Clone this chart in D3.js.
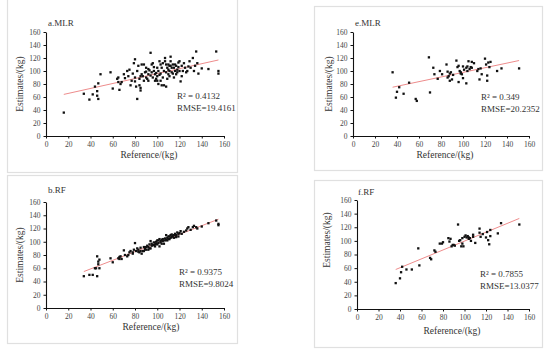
<!DOCTYPE html>
<html>
<head>
<meta charset="utf-8">
<script src="https://cdn.jsdelivr.net/npm/d3@7"></script>
<style>
  body { margin: 0; background: #fff; }
  text { font-family: "Liberation Serif", "Times New Roman", serif; fill: #333; }
</style>
</head>
<body>
<script>
// data: [reference, estimate]
var mlrA = [[16,36],[34,65],[39,56],[42,64],[44,76],[46,62],[46,69],[47,57],[47,81],[49,95],
  [58,98],[60,73],[64,88],[65,90],[65,83],[66,71],[67,80],[68,83],[70,95],[71,89],[73,100],
  [74,92],[75,102],[76,78],[77,85],[78,96],[79,112],[80,118],[80,90],[80,84],[81,76],[82,57],
  [82,100],[83,108],[84,88],[84,78],[85,74],[85,70],[86,95],[86,110],[87,92],[88,85],[89,98],
  [90,105],[90,90],[91,88],[92,95],[93,101],[94,128],[94,93],[95,110],[96,112],[96,90],[97,100],
  [98,95],[98,85],[99,97],[100,105],[100,92],[101,80],[101,100],[102,115],[103,110],[103,96],
  [104,78],[104,105],[105,90],[106,100],[106,78],[107,115],[107,120],[108,76],[108,98],[109,105],
  [110,110],[110,95],[111,92],[111,100],[112,122],[112,115],[113,105],[113,98],[114,110],[115,105],
  [115,90],[116,110],[116,100],[117,108],[118,98],[119,113],[120,115],[120,100],[121,84],[122,92],
  [122,108],[124,112],[125,105],[127,100],[128,107],[129,115],[130,105],[132,120],[133,100],
  [134,108],[135,130],[136,112],[137,96],[140,104],[146,103],[153,130],[155,100],[155,96],
  [88,110],[92,103],[95,98],[97,106],[99,88],[102,94],[105,112],[109,88],[110,102],[112,108],
  [114,96],[117,95],[119,106],[123,100],[126,98],[100,85],[103,85],[92,85],[85,92],[90,99],
  [108,110],[111,108],[118,102]];

var mlrE = [[36,98],[39,59],[40,68],[42,75],[46,65],[51,82],[57,57],[58,54],[69,121],[70,67],
  [73,105],[74,95],[77,88],[79,100],[81,95],[85,110],[86,99],[86,90],[87,92],[88,85],[88,96],
  [89,98],[90,87],[91,94],[94,116],[95,106],[96,108],[96,83],[97,100],[98,98],[98,96],[99,95],
  [100,107],[100,89],[101,102],[103,81],[103,105],[104,100],[104,107],[105,115],[106,103],
  [107,106],[108,114],[108,105],[110,112],[113,100],[114,103],[115,87],[116,104],[117,95],
  [120,119],[121,110],[122,85],[122,93],[123,113],[124,106],[125,114],[131,100],[135,104],[151,104]];

var rfB = [[34,48],[39,50],[42,50],[44,60],[45,60],[46,78],[46,48],[47,66],[47,70],[48,60],
  [48,73],[58,75],[60,69],[65,75],[66,77],[67,78],[68,74],[70,87],[71,80],[73,78],[75,84],
  [76,86],[78,82],[79,88],[80,98],[81,86],[82,90],[83,88],[84,84],[85,91],[86,82],[87,86],
  [88,92],[89,89],[90,88],[91,94],[92,92],[93,96],[94,101],[94,90],[95,97],[96,95],[97,99],
  [98,93],[99,100],[100,102],[100,96],[101,98],[102,104],[103,99],[104,103],[105,101],[106,97],
  [107,105],[108,103],[108,110],[109,106],[110,108],[111,104],[112,110],[113,107],[114,109],
  [115,106],[116,112],[117,110],[118,114],[119,108],[120,113],[121,116],[122,112],[124,115],
  [126,117],[127,120],[128,122],[130,118],[132,122],[133,124],[135,122],[136,120],[140,123],
  [146,128],[153,132],[155,127],[155,125],[85,86],[88,86],[90,92],[92,88],[95,94],[97,95],
  [99,97],[101,102],[103,101],[105,104],[107,102],[109,102],[111,108],[113,111],[115,110],
  [117,107],[102,93],[98,96],[93,90],[83,85],[78,84],[74,80],[66,74],[110,104],[112,106],
  [119,112],[104,97]];

var rfF = [[36,38],[40,45],[41,54],[42,62],[46,58],[51,58],[57,89],[58,64],[68,75],[69,73],
  [72,86],[73,84],[77,96],[79,96],[80,98],[85,104],[86,99],[87,103],[88,92],[89,94],[90,94],
  [91,93],[94,124],[95,100],[96,101],[97,92],[98,96],[98,104],[99,92],[100,106],[101,108],
  [102,105],[103,107],[104,103],[104,105],[105,104],[106,100],[108,106],[108,109],[110,97],
  [114,112],[114,118],[115,106],[117,110],[120,105],[121,113],[122,101],[123,95],[124,116],
  [124,107],[131,111],[134,126],[151,124]];

// trend lines: [slope, intercept, xFrom, xTo]
var trendA = [0.381, 57.9, 16, 155];
var trendE = [0.357, 62.2, 36, 151];
var trendB = [0.653, 32.8, 34, 155];
var trendF = [0.652, 34.5, 36, 151];

var titles = ["a.MLR", "e.MLR", "b.RF", "f.RF"];
var r2Labels = ["R\u00B2 = 0.4132", "R\u00B2 = 0.349", "R\u00B2 = 0.9375", "R\u00B2 = 0.7855"];
var rmseLabels = ["RMSE=19.4161", "RMSE=20.2352", "RMSE=9.8024", "RMSE=13.0377"];
var tickVals = [0, 20, 40, 60, 80, 100, 120, 140, 160];

var width = 550, height = 355;
var svg = d3.select("body").append("svg")
    .attr("width", width)
    .attr("height", height);

// panel layout (pixels)
var panels = [
  {pts: mlrA, trend: trendA, frame: [7, -2, 230, 174], x0: 46, x1: 224, y0: 136, y1: 32,
   title: [48, 26], stat: [177, 99], xl: [149, 158], yl: [23, 84]},
  {pts: mlrE, trend: trendE, frame: [314, 6, 228, 164], x0: 353, x1: 529, y0: 136, y1: 32,
   title: [355, 26], stat: [481, 100], xl: [445, 158], yl: [332, 84]},
  {pts: rfB, trend: trendB, frame: [7, 175, 230, 168], x0: 46, x1: 224, y0: 308, y1: 202,
   title: [48, 193], stat: [179, 275], xl: [151, 330], yl: [23, 255]},
  {pts: rfF, trend: trendF, frame: [314, 180, 228, 167], x0: 357, x1: 529, y0: 309, y1: 200,
   title: [358, 195], stat: [480, 277], xl: [452, 334], yl: [330, 240]}
];

panels.forEach(function(p, i) {
  var g = svg.append("g");

  g.append("rect")
    .attr("x", p.frame[0] + 0.5).attr("y", p.frame[1] + 0.5)
    .attr("width", p.frame[2]).attr("height", p.frame[3])
    .style("fill", "none").style("stroke", "#e0e0e0").style("stroke-width", 1.2);

  var x = d3.scaleLinear().domain([0, 160]).range([p.x0, p.x1]);
  var y = d3.scaleLinear().domain([0, 160]).range([p.y0, p.y1]);

  var xAxis = g.append("g")
    .attr("transform", "translate(0," + p.y0 + ")")
    .call(d3.axisBottom(x).tickValues(tickVals).tickSize(2.5).tickSizeOuter(0).tickPadding(3));
  var yAxis = g.append("g")
    .attr("transform", "translate(" + p.x0 + ",0)")
    .call(d3.axisLeft(y).tickValues(tickVals).tickSize(2.5).tickSizeOuter(0).tickPadding(3));

  [xAxis, yAxis].forEach(function(a) {
    a.select(".domain").style("stroke", "#111").style("stroke-width", 1.1);
    a.selectAll(".tick line").style("stroke", "#111");
    a.selectAll(".tick text").style("font-size", "7.5px")
      .style("font-family", "Liberation Serif, serif").style("fill", "#444");
  });

  // trend line
  var t = p.trend;
  g.append("line")
    .attr("x1", x(t[2])).attr("y1", y(t[0] * t[2] + t[1]))
    .attr("x2", x(t[3])).attr("y2", y(t[0] * t[3] + t[1]))
    .style("stroke", "#ee8c8c").style("stroke-width", 1);

  // points
  g.selectAll("rect.pt")
    .data(p.pts)
    .enter().append("rect")
    .attr("class", "pt")
    .attr("x", function(d) { return x(d[0]) - 1.15; })
    .attr("y", function(d) { return y(d[1]) - 1.15; })
    .attr("width", 2.3).attr("height", 2.3)
    .style("fill", "#111");

  g.append("text").attr("x", p.title[0]).attr("y", p.title[1])
    .style("font-size", "9px").text(titles[i]);

  g.append("text").attr("x", p.stat[0]).attr("y", p.stat[1])
    .style("font-size", "9px").text(r2Labels[i]);
  g.append("text").attr("x", p.stat[0]).attr("y", p.stat[1] + 12)
    .style("font-size", "9px").text(rmseLabels[i]);

  g.append("text").attr("x", p.xl[0]).attr("y", p.xl[1])
    .attr("text-anchor", "middle").style("font-size", "9.5px").text("Reference/(kg)");

  g.append("text")
    .attr("transform", "translate(" + p.yl[0] + "," + p.yl[1] + ") rotate(-90)")
    .attr("text-anchor", "middle").style("font-size", "9.5px").text("Estimates/(kg)");
});
</script>
</body>
</html>
